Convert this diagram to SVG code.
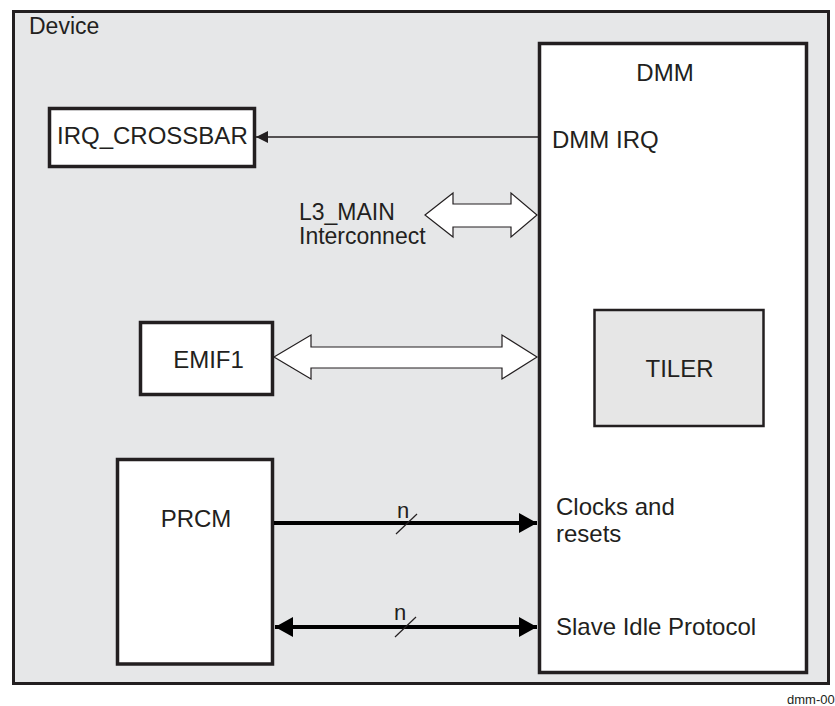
<svg xmlns="http://www.w3.org/2000/svg" width="835" height="706" viewBox="0 0 835 706">
<defs>
<style>
text{font-family:"Liberation Sans",Arial,sans-serif;font-size:24px;fill:#231f20}
.box{fill:#fff;stroke:#231f20;stroke-width:3.5}
.hollow{fill:#fff;stroke:#231f20;stroke-width:1.2;stroke-linejoin:miter}
.thick{stroke:#000;stroke-width:4;fill:none}
.slash{stroke:#231f20;stroke-width:1.2}
</style>
<marker id="ah" viewBox="0 0 12 12" refX="12" refY="6" markerWidth="12" markerHeight="12" markerUnits="userSpaceOnUse" orient="auto-start-reverse"><path d="M0,0 L12,6 L0,12 Z" fill="#231f20"/></marker>
<marker id="ahb" viewBox="0 0 18 20" refX="18" refY="10" markerWidth="18" markerHeight="20" markerUnits="userSpaceOnUse" orient="auto-start-reverse"><path d="M0,0 L18,10 L0,20 Z" fill="#000"/></marker>
</defs>
<rect width="835" height="706" fill="#fff"/>
<g id="device">
<rect x="13.5" y="11.5" width="815" height="672" fill="#e6e7e8" stroke="#231f20" stroke-width="3"/>
<text x="29" y="34" style="font-size:23px">Device</text>
</g>
<g id="dmm">
<rect x="539.5" y="43.5" width="267" height="629" class="box"/>
<text x="665" y="81" text-anchor="middle">DMM</text>
<text x="552" y="148">DMM IRQ</text>
<text x="556" y="515">Clocks and</text>
<text x="556" y="542">resets</text>
<text x="556" y="635">Slave Idle Protocol</text>
</g>
<g id="tiler">
<rect x="594.5" y="310" width="169" height="116" fill="#e6e6e6" stroke="#231f20" stroke-width="2.5"/>
<text x="679.5" y="377" text-anchor="middle">TILER</text>
</g>
<g id="irq_crossbar">
<rect x="49.5" y="108.5" width="205" height="58" class="box"/>
<text x="57" y="144">IRQ_CROSSBAR</text>
</g>
<g id="emif1">
<rect x="140.5" y="322.5" width="132" height="72" class="box"/>
<text x="208.5" y="368" text-anchor="middle">EMIF1</text>
</g>
<g id="prcm">
<rect x="117.5" y="459.5" width="155" height="204.5" class="box"/>
<text x="196" y="527" text-anchor="middle">PRCM</text>
</g>
<g id="l3_main">
<text x="299" y="220" style="font-size:23px">L3_MAIN</text>
<text x="299" y="244" style="font-size:23px">Interconnect</text>
</g>
<g id="connectors">
<line x1="538" y1="137" x2="256" y2="137" stroke="#231f20" stroke-width="1.5" marker-end="url(#ah)"/>
<path class="hollow" d="M425,215 L453,193 L453,204 L511,204 L511,193 L537,215 L511,237 L511,227 L453,227 L453,237 Z"/>
<path class="hollow" d="M274,357 L311,335 L311,347 L502,347 L502,335 L537,357 L502,379 L502,368 L311,368 L311,379 Z"/>
<line x1="274" y1="523" x2="537" y2="523" class="thick" marker-end="url(#ahb)"/>
<line x1="396" y1="534" x2="417" y2="514" class="slash"/>
<text x="397" y="518" style="font-size:22px">n</text>
<line x1="275" y1="627" x2="537" y2="627" class="thick" marker-start="url(#ahb)" marker-end="url(#ahb)"/>
<line x1="395" y1="637" x2="416" y2="617" class="slash"/>
<text x="394" y="620" style="font-size:22px">n</text>
</g>
<text x="787" y="704" style="font-size:13px">dmm-00</text>
</svg>
